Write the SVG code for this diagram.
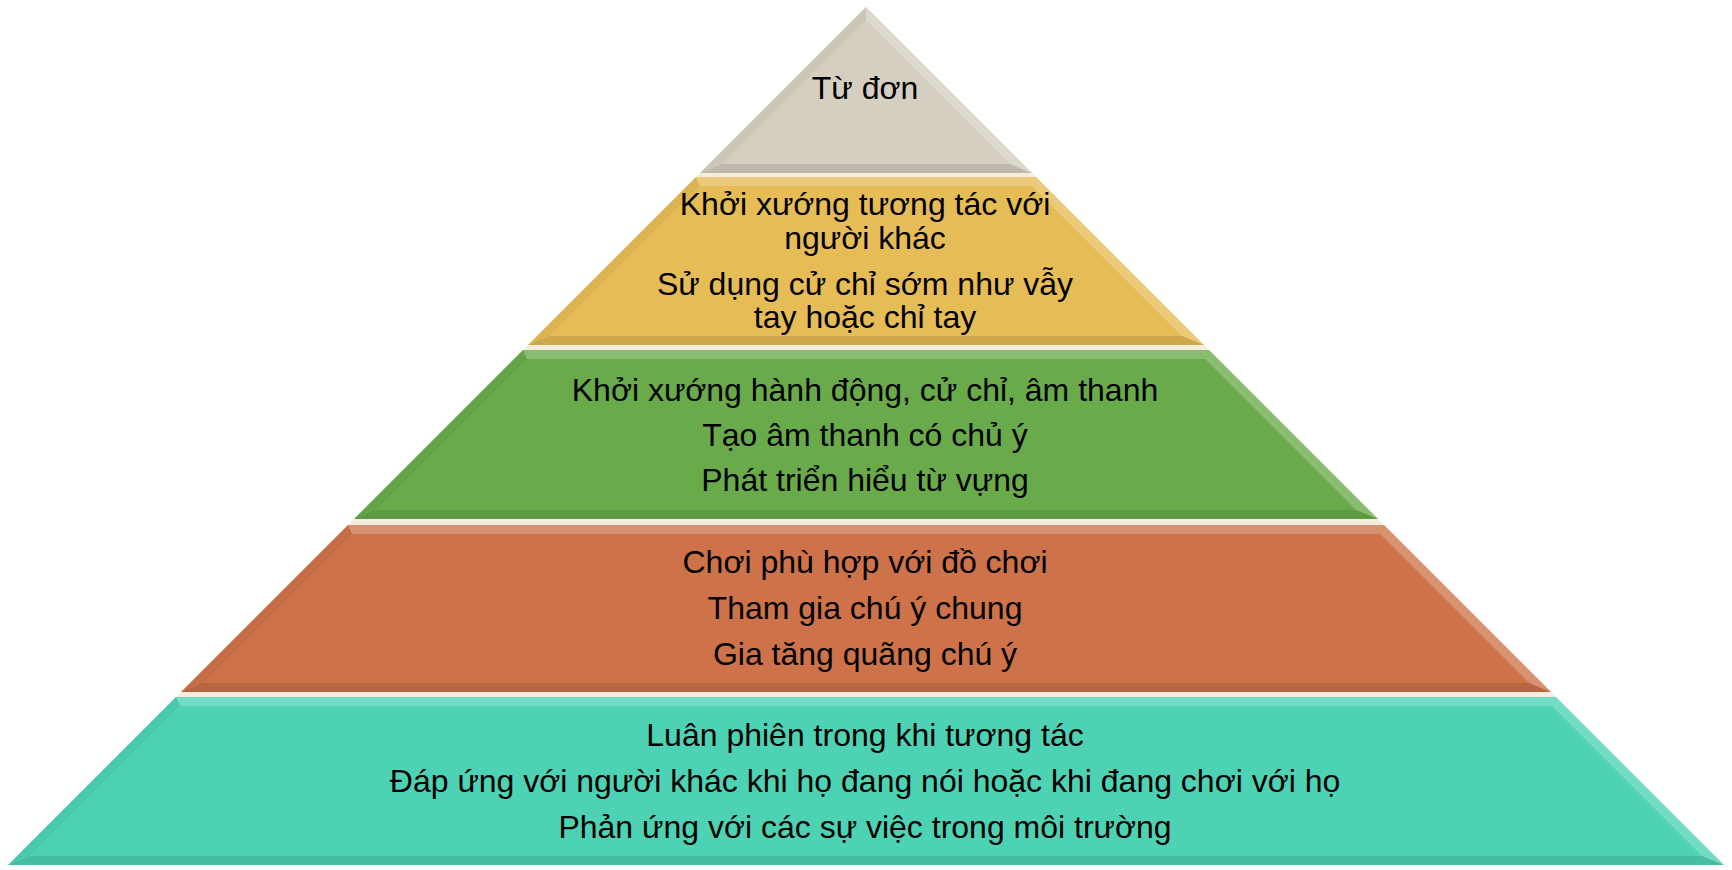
<svg xmlns="http://www.w3.org/2000/svg" width="1732" height="870" viewBox="0 0 1732 870">
<style>
text{font-family:"Liberation Sans",Arial,sans-serif;font-size:32px;fill:#000;text-anchor:middle}
.hl{fill:#fff;fill-opacity:.22}
.hr{fill:#fff;fill-opacity:.22}
.sl{fill:#000;fill-opacity:.04}
.sb{fill:#000;fill-opacity:.1}
</style>
<rect width="1732" height="870" fill="#fff"/>
<polygon points="866,7 1724,865 8,865" fill="#f4eddb"/>
<g id="layer-1">
<polygon points="866,7 1032,173 700,173" fill="#d4cfc0"/>
<polygon class="sl" points="866,7 866,20 722,164 700,173"/>
<polygon class="hr" points="866,7 1032,173 1010,164 866,20"/>
<polygon class="sb" points="700,173 1032,173 1010,164 722,164"/>
<text x="865" y="99">Từ đơn</text>
</g>
<g id="layer-2">
<polygon points="696,177 1036,177 1204,345 528,345" fill="#e6bc56"/>
<polygon class="hl" points="696,177 1036,177 1032,186 700,186"/>
<polygon class="hr" points="1036,177 1204,345 1182,336 1032,186"/>
<polygon class="sb" points="528,345 1204,345 1182,336 550,336"/>
<polygon class="sl" points="696,177 700,186 550,336 528,345"/>
<text x="865" y="215">Khởi xướng tương tác với</text>
<text x="865" y="249">người khác</text>
<text x="865" y="295">Sử dụng cử chỉ sớm như vẫy</text>
<text x="865" y="328">tay hoặc chỉ tay</text>
</g>
<g id="layer-3">
<polygon points="523,350 1209,350 1378,519 354,519" fill="#69ab4b"/>
<polygon class="hl" points="523,350 1209,350 1205,359 527,359"/>
<polygon class="hr" points="1209,350 1378,519 1356,510 1205,359"/>
<polygon class="sb" points="354,519 1378,519 1356,510 376,510"/>
<polygon class="sl" points="523,350 527,359 376,510 354,519"/>
<text x="865" y="401">Khởi xướng hành động, cử chỉ, âm thanh</text>
<text x="865" y="446">Tạo âm thanh có chủ ý</text>
<text x="865" y="491">Phát triển hiểu từ vựng</text>
</g>
<g id="layer-4">
<polygon points="348,525 1384,525 1551,692 181,692" fill="#cd7249"/>
<polygon class="hl" points="348,525 1384,525 1380,534 352,534"/>
<polygon class="hr" points="1384,525 1551,692 1529,683 1380,534"/>
<polygon class="sb" points="181,692 1551,692 1529,683 203,683"/>
<polygon class="sl" points="348,525 352,534 203,683 181,692"/>
<text x="865" y="573">Chơi phù hợp với đồ chơi</text>
<text x="865" y="619">Tham gia chú ý chung</text>
<text x="865" y="665">Gia tăng quãng chú ý</text>
</g>
<g id="layer-5">
<polygon points="176,697 1556,697 1724,865 8,865" fill="#4dd3b4"/>
<polygon class="hl" points="176,697 1556,697 1552,706 180,706"/>
<polygon class="hr" points="1556,697 1724,865 1702,856 1552,706"/>
<polygon class="sb" points="8,865 1724,865 1702,856 30,856"/>
<polygon class="sl" points="176,697 180,706 30,856 8,865"/>
<text x="865" y="746">Luân phiên trong khi tương tác</text>
<text x="865" y="792">Đáp ứng với người khác khi họ đang nói hoặc khi đang chơi với họ</text>
<text x="865" y="838">Phản ứng với các sự việc trong môi trường</text>
</g>
<g id="connectors"/>
</svg>
